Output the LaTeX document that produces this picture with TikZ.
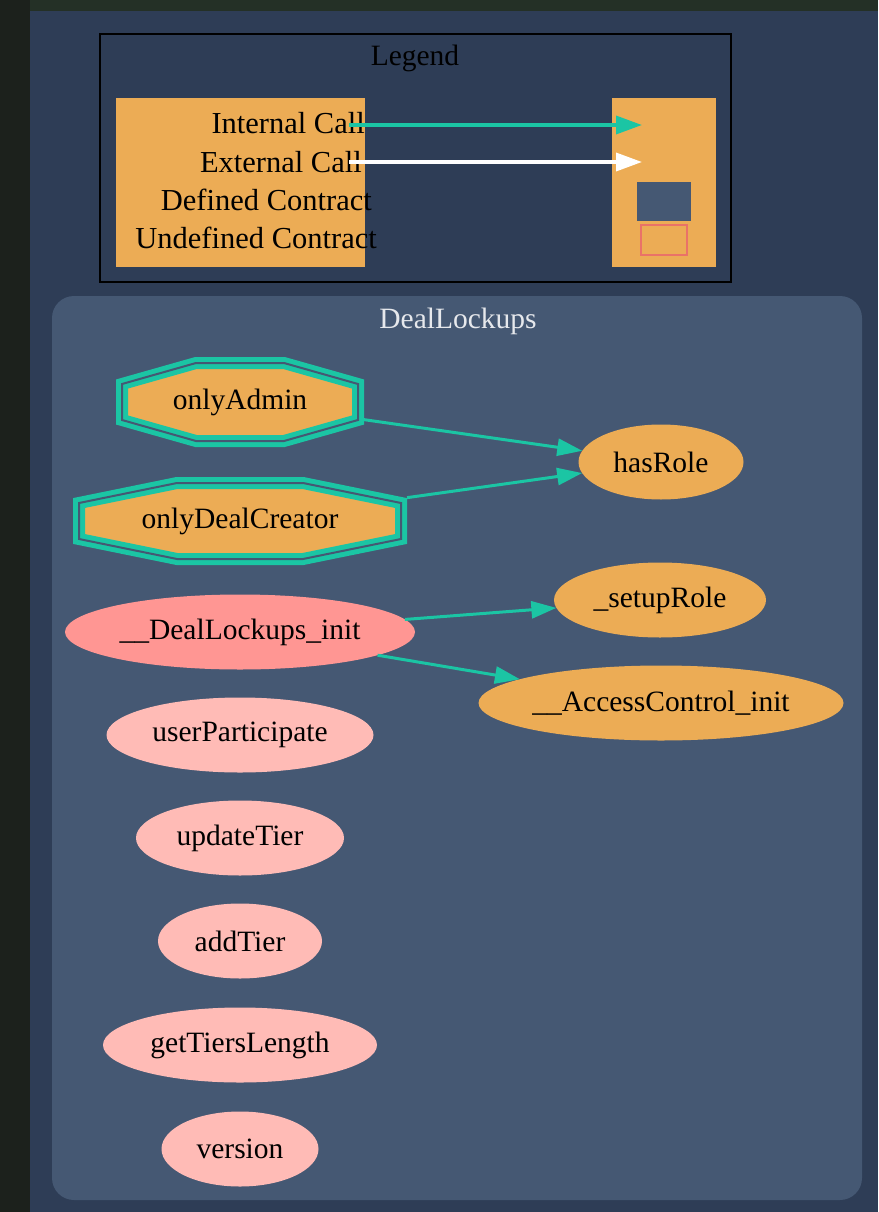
\documentclass[tikz,border=0pt]{standalone}
\usepackage{fontspec}
\setmainfont{Liberation Serif}
\usetikzlibrary{shapes.geometric}
\usetikzlibrary{arrows.meta}
\definecolor{pageDark}{HTML}{1C211C}
\definecolor{pageTop}{HTML}{243026}
\definecolor{panel}{HTML}{2E3D56}
\definecolor{cluster}{HTML}{455873}
\definecolor{fnOrange}{HTML}{ECAC55}
\definecolor{callTeal}{HTML}{1BC5A4}
\definecolor{pubRed}{HTML}{FF9693}
\definecolor{extPink}{HTML}{FFBBB6}
\definecolor{undefRed}{HTML}{EA7268}
\definecolor{titleGrey}{HTML}{E6E8EC}
\newcommand{\octnode}[8]{%
  \draw [octline] ({#2-#4+#6},{#3-#5}) -- ({#2+#4-#6},{#3-#5})
    -- ({#2+#4},{#3-#5+#7}) -- ({#2+#4},{#3+#5-#7})
    -- ({#2+#4-#6},{#3+#5}) -- ({#2-#4+#6},{#3+#5})
    -- ({#2-#4},{#3+#5-#7}) -- ({#2-#4},{#3-#5+#7}) -- cycle;
  \node [modbox, minimum width={(2*#4+12)*1pt}, minimum height={(2*#5+12)*1pt}] (#1) at (#2,#3) {#8};
}

\begin{document}
\begin{tikzpicture}[x=1pt, y=-1pt,
  every node/.style={font=\fontsize{29.5}{34}\selectfont},
  fn/.style={ellipse, fill=fnOrange, inner sep=0pt, outer sep=0pt, minimum height=75pt},
  pubfn/.style={fn, fill=pubRed},
  extfn/.style={fn, fill=extPink},
  modbox/.style={rectangle, inner sep=0pt, outer sep=0pt},
  octline/.style={draw=callTeal, line width=5pt, double=cluster, double distance=2pt, fill=fnOrange},
  lgtext/.style={anchor=base east, inner sep=0pt, font=\fontsize{30.5}{34}\selectfont},
  call/.style={draw=callTeal, line width=3pt, -{Triangle[length=25pt, width=17pt]}},
  lgcall/.style={line width=3.5pt, -{Triangle[length=26pt, width=18pt]}}]
  % page and panel
  \fill [pageDark] (0,0) rectangle (878,1212);
  \fill [pageTop] (30,0) rectangle (878,11);
  \fill [panel] (30,11) rectangle (878,1212);

  % legend
  \draw [black, line width=1.5pt] (100,34) rectangle (731,282);
  \node [anchor=base] (lgTitle) at (415,66) {Legend};
  \fill [fnOrange] (116,98) rectangle (365,267);
  \fill [fnOrange] (612,98) rectangle (716,267);
  \fill [cluster] (637,182) rectangle (691,221);
  \draw [undefRed, fill=fnOrange, line width=1.5pt] (641,225) rectangle (687,255);
  \node [lgtext] (lgInt) at (365,134) {Internal Call};
  \node [lgtext] (lgExt) at (362,172) {External Call};
  \node [lgtext] (lgDef) at (372,210) {Defined Contract};
  \node [lgtext] (lgUndef) at (377,248) {Undefined Contract};
  \coordinate (intFrom) at (349,125);
  \coordinate (intTo) at (642,125);
  \coordinate (extFrom) at (349,162);
  \coordinate (extTo) at (642,162);
  \draw [lgcall, callTeal] (intFrom) -- (intTo);
  \draw [lgcall, white] (extFrom) -- (extTo);

  % contract cluster
  \fill [cluster, rounded corners=22pt] (52,296) rectangle (862,1200);
  \node [anchor=base, text=titleGrey] (clTitle) at (458,328) {DealLockups};

  % modifiers
  \octnode{onlyAdmin}{240}{402}{118}{39}{74}{21}{onlyAdmin}
  \octnode{onlyDealCreator}{240}{521}{161}{38}{98}{20}{onlyDealCreator}

  % functions
  \node [fn, minimum width=165pt] (hasRole) at (661,462) {hasRole};
  \node [fn, minimum width=212pt] (setupRole) at (660,600) {\_setupRole};
  \node [fn, minimum width=365pt] (acInit) at (661,703) {\_\_AccessControl\_init};
  \node [pubfn, minimum width=350pt] (dlInit) at (240,632) {\_\_DealLockups\_init};
  \node [extfn, minimum width=267pt] (userParticipate) at (240,735) {userParticipate};
  \node [extfn, minimum width=208pt] (updateTier) at (240,838) {updateTier};
  \node [extfn, minimum width=164pt] (addTier) at (240,941) {addTier};
  \node [extfn, minimum width=274pt] (getTiersLength) at (240,1045) {getTiersLength};
  \node [extfn, minimum width=157pt] (version) at (240,1149) {version};

  % calls
  \draw [call] (onlyAdmin) -- (hasRole);
  \draw [call] (onlyDealCreator) -- (hasRole);
  \draw [call] (dlInit) -- (setupRole);
  \draw [call] (dlInit) -- (acInit);
\end{tikzpicture}
\end{document}
